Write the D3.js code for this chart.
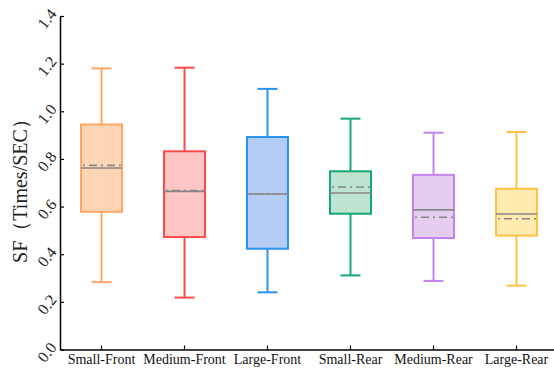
<!DOCTYPE html>
<html>
<head>
<meta charset="utf-8">
<script src="https://cdn.jsdelivr.net/npm/d3@7"></script>
<style>
  html, body { margin: 0; padding: 0; background: #fff; }
  svg { display: block; }
  svg text { font-family: "Liberation Serif", "Times New Roman", serif; }
</style>
</head>
<body>
<svg id="chart" width="554" height="371"></svg>
<script>
// Box statistics per group
const categories = ["Small-Front", "Medium-Front", "Large-Front", "Small-Rear", "Medium-Rear", "Large-Rear"];
const whiskerHigh = [1.18, 1.183, 1.094, 0.969, 0.910, 0.913];
const q3Values    = [0.945, 0.832, 0.892, 0.748, 0.733, 0.675];
const medians     = [0.762, 0.664, 0.653, 0.657, 0.586, 0.569];
const means       = [0.773, 0.667, 0.653, 0.682, 0.555, 0.549];
const q1Values    = [0.578, 0.472, 0.423, 0.570, 0.468, 0.478];
const whiskerLow  = [0.283, 0.218, 0.240, 0.311, 0.288, 0.268];
const yTicks = [0.0, 0.2, 0.4, 0.6, 0.8, 1.0, 1.2, 1.4];

const strokeColors = ["#FFA866", "#FF4A4A", "#2A92F0", "#15A878", "#C384EE", "#FFC247"];
const fillColors   = ["#FED6B6", "#FFC6C6", "#B5CDF4", "#BEE4D1", "#E6CDF0", "#FFEBB0"];

const svg = d3.select("#chart");

const x = d3.scaleBand().domain(categories).range([60, 558]).paddingInner(0).paddingOuter(0);
const y = d3.scaleLinear().domain([0, 1.4]).range([349.5, 16]);

const boxW = 41, capW = 20;
const data = categories.map((c, i) => ({
  c, i,
  hi: whiskerHigh[i], q3: q3Values[i], med: medians[i],
  mean: means[i], q1: q1Values[i], lo: whiskerLow[i]
}));

const g = svg.append("g");
const boxes = g.selectAll("g.box").data(data).join("g").attr("class", "box")
  .attr("transform", d => `translate(${x(d.c) + x.bandwidth() / 2},0)`);

// whiskers
boxes.append("line").attr("x1", 0).attr("x2", 0)
  .attr("y1", d => y(d.hi)).attr("y2", d => y(d.q3))
  .attr("stroke", d => strokeColors[d.i]).attr("stroke-width", 2);
boxes.append("line").attr("x1", 0).attr("x2", 0)
  .attr("y1", d => y(d.q1)).attr("y2", d => y(d.lo))
  .attr("stroke", d => strokeColors[d.i]).attr("stroke-width", 2);
// caps
boxes.append("line").attr("x1", -capW / 2).attr("x2", capW / 2)
  .attr("y1", d => y(d.hi)).attr("y2", d => y(d.hi))
  .attr("stroke", d => strokeColors[d.i]).attr("stroke-width", 2);
boxes.append("line").attr("x1", -capW / 2).attr("x2", capW / 2)
  .attr("y1", d => y(d.lo)).attr("y2", d => y(d.lo))
  .attr("stroke", d => strokeColors[d.i]).attr("stroke-width", 2);
// box
boxes.append("rect").attr("x", -boxW / 2).attr("width", boxW)
  .attr("y", d => y(d.q3)).attr("height", d => y(d.q1) - y(d.q3))
  .attr("fill", d => fillColors[d.i]).attr("stroke", d => strokeColors[d.i]).attr("stroke-width", 2);
// median
boxes.append("line").attr("x1", -boxW / 2).attr("x2", boxW / 2)
  .attr("y1", d => y(d.med)).attr("y2", d => y(d.med))
  .attr("stroke", "#878787").attr("stroke-width", 1.6);
// mean (dash-dot)
boxes.append("line").attr("x1", -boxW / 2 + 2).attr("x2", boxW / 2)
  .attr("y1", d => y(d.mean)).attr("y2", d => y(d.mean))
  .attr("stroke", "#878787").attr("stroke-width", 1.6)
  .attr("stroke-dasharray", "2,4,8,4");

// axes
const yAxis = d3.axisLeft(y).tickValues(yTicks).tickFormat(d3.format(".1f")).tickSizeInner(-4).tickSizeOuter(0);
const yg = svg.append("g").attr("transform", "translate(60,0)").call(yAxis);
yg.attr("font-family", null);
yg.select(".domain").attr("stroke", "#000").attr("stroke-width", 1.5);
yg.selectAll(".tick line").attr("stroke", "#000").attr("stroke-width", 1.2);
yg.selectAll(".tick text")
  .style("font-size", "16px").attr("fill", "#222")
  .attr("x", -4).attr("dy", "0.32em")
  .attr("text-anchor", "end")
  .attr("transform", "rotate(-52,-11,0)");

const xAxis = d3.axisBottom(x).tickSizeInner(-4).tickSizeOuter(0);
const xg = svg.append("g").attr("transform", "translate(0,349.5)").call(xAxis);
xg.attr("font-family", null);
xg.select(".domain").attr("stroke", "#000").attr("stroke-width", 1.5);
xg.selectAll(".tick line").attr("stroke", "#000").attr("stroke-width", 1.2);
xg.selectAll(".tick text")
  .style("font-size", "14px").attr("fill", "#111").attr("y", 5).attr("dy", "0.71em");

// y axis title
svg.append("text")
  .attr("transform", "translate(27,186) rotate(-90)")
  .attr("text-anchor", "middle")
  .style("font-size", "20px").attr("fill", "#222")
  .text("SF（Times/SEC）");
</script>
</body>
</html>
